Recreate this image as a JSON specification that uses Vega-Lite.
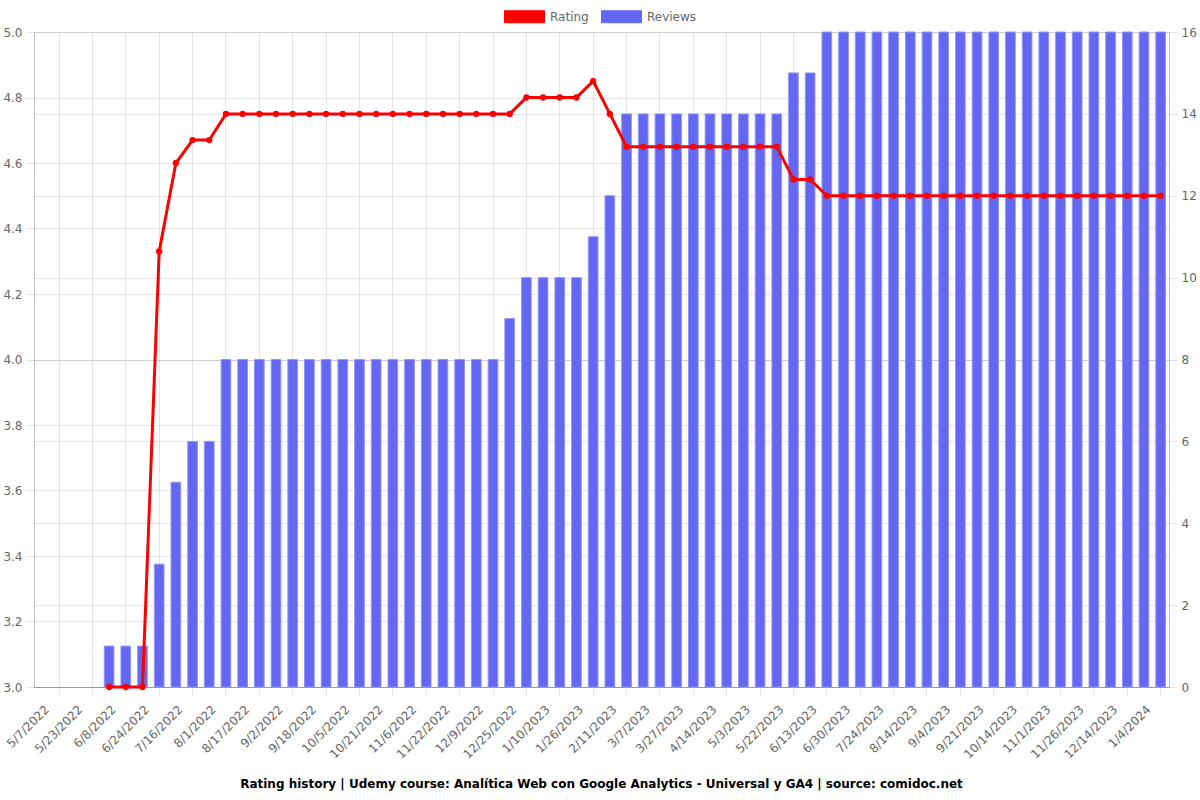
{
  "$schema": "https://vega.github.io/schema/vega-lite/v6.json",
  "width": 1135,
  "height": 655,
  "autosize": "none",
  "padding": {"left": 34, "top": 32, "right": 31, "bottom": 113},
  "background": "white",
  "config": {
    "font": "DejaVu Sans",
    "view": {"stroke": null},
    "axis": {
      "labelFont": "DejaVu Sans",
      "labelFontSize": 12,
      "labelColor": "#666666",
      "gridColor": "#000000",
      "gridOpacity": 0.1,
      "domainColor": "#000000",
      "domainOpacity": 0.25,
      "tickColor": "#000000",
      "tickOpacity": 0.1,
      "tickSize": 8,
      "title": null
    }
  },
  "title": {
    "text": "Rating history | Udemy course: Analítica Web con Google Analytics - Universal y GA4 | source: comidoc.net",
    "orient": "bottom",
    "anchor": "middle",
    "font": "DejaVu Sans",
    "fontSize": 12,
    "fontWeight": "bold",
    "color": "#000000",
    "offset": 19
  },
  "data": {
    "values": [
      {"date": "4/29/2022", "rating": null, "reviews": null},
      {"date": "5/7/2022", "rating": null, "reviews": null},
      {"date": "5/15/2022", "rating": null, "reviews": null},
      {"date": "5/23/2022", "rating": null, "reviews": null},
      {"date": "5/31/2022", "rating": 3.0, "reviews": 1},
      {"date": "6/8/2022", "rating": 3.0, "reviews": 1},
      {"date": "6/16/2022", "rating": 3.0, "reviews": 1},
      {"date": "6/24/2022", "rating": 4.33, "reviews": 3},
      {"date": "7/5/2022", "rating": 4.6, "reviews": 5},
      {"date": "7/16/2022", "rating": 4.67, "reviews": 6},
      {"date": "7/24/2022", "rating": 4.67, "reviews": 6},
      {"date": "8/1/2022", "rating": 4.75, "reviews": 8},
      {"date": "8/9/2022", "rating": 4.75, "reviews": 8},
      {"date": "8/17/2022", "rating": 4.75, "reviews": 8},
      {"date": "8/25/2022", "rating": 4.75, "reviews": 8},
      {"date": "9/2/2022", "rating": 4.75, "reviews": 8},
      {"date": "9/10/2022", "rating": 4.75, "reviews": 8},
      {"date": "9/18/2022", "rating": 4.75, "reviews": 8},
      {"date": "9/26/2022", "rating": 4.75, "reviews": 8},
      {"date": "10/5/2022", "rating": 4.75, "reviews": 8},
      {"date": "10/13/2022", "rating": 4.75, "reviews": 8},
      {"date": "10/21/2022", "rating": 4.75, "reviews": 8},
      {"date": "10/29/2022", "rating": 4.75, "reviews": 8},
      {"date": "11/6/2022", "rating": 4.75, "reviews": 8},
      {"date": "11/14/2022", "rating": 4.75, "reviews": 8},
      {"date": "11/22/2022", "rating": 4.75, "reviews": 8},
      {"date": "11/30/2022", "rating": 4.75, "reviews": 8},
      {"date": "12/9/2022", "rating": 4.75, "reviews": 8},
      {"date": "12/17/2022", "rating": 4.75, "reviews": 9},
      {"date": "12/25/2022", "rating": 4.8, "reviews": 10},
      {"date": "1/2/2023", "rating": 4.8, "reviews": 10},
      {"date": "1/10/2023", "rating": 4.8, "reviews": 10},
      {"date": "1/18/2023", "rating": 4.8, "reviews": 10},
      {"date": "1/26/2023", "rating": 4.85, "reviews": 11},
      {"date": "2/3/2023", "rating": 4.75, "reviews": 12},
      {"date": "2/11/2023", "rating": 4.65, "reviews": 14},
      {"date": "2/23/2023", "rating": 4.65, "reviews": 14},
      {"date": "3/7/2023", "rating": 4.65, "reviews": 14},
      {"date": "3/17/2023", "rating": 4.65, "reviews": 14},
      {"date": "3/27/2023", "rating": 4.65, "reviews": 14},
      {"date": "4/5/2023", "rating": 4.65, "reviews": 14},
      {"date": "4/14/2023", "rating": 4.65, "reviews": 14},
      {"date": "4/23/2023", "rating": 4.65, "reviews": 14},
      {"date": "5/3/2023", "rating": 4.65, "reviews": 14},
      {"date": "5/12/2023", "rating": 4.65, "reviews": 14},
      {"date": "5/22/2023", "rating": 4.55, "reviews": 15},
      {"date": "6/1/2023", "rating": 4.55, "reviews": 15},
      {"date": "6/13/2023", "rating": 4.5, "reviews": 16},
      {"date": "6/21/2023", "rating": 4.5, "reviews": 16},
      {"date": "6/30/2023", "rating": 4.5, "reviews": 16},
      {"date": "7/11/2023", "rating": 4.5, "reviews": 16},
      {"date": "7/24/2023", "rating": 4.5, "reviews": 16},
      {"date": "8/3/2023", "rating": 4.5, "reviews": 16},
      {"date": "8/14/2023", "rating": 4.5, "reviews": 16},
      {"date": "8/24/2023", "rating": 4.5, "reviews": 16},
      {"date": "9/4/2023", "rating": 4.5, "reviews": 16},
      {"date": "9/12/2023", "rating": 4.5, "reviews": 16},
      {"date": "9/21/2023", "rating": 4.5, "reviews": 16},
      {"date": "10/2/2023", "rating": 4.5, "reviews": 16},
      {"date": "10/14/2023", "rating": 4.5, "reviews": 16},
      {"date": "10/23/2023", "rating": 4.5, "reviews": 16},
      {"date": "11/1/2023", "rating": 4.5, "reviews": 16},
      {"date": "11/12/2023", "rating": 4.5, "reviews": 16},
      {"date": "11/26/2023", "rating": 4.5, "reviews": 16},
      {"date": "12/5/2023", "rating": 4.5, "reviews": 16},
      {"date": "12/14/2023", "rating": 4.5, "reviews": 16},
      {"date": "12/24/2023", "rating": 4.5, "reviews": 16},
      {"date": "1/4/2024", "rating": 4.5, "reviews": 16}
    ]
  },
  "encoding": {
    "x": {
      "field": "date",
      "type": "ordinal",
      "sort": null,
      "scale": {
        "type": "band",
        "paddingInner": 0,
        "paddingOuter": 0,
        "domain": ["4/29/2022","5/7/2022","5/15/2022","5/23/2022","5/31/2022","6/8/2022","6/16/2022","6/24/2022","7/5/2022","7/16/2022","7/24/2022","8/1/2022","8/9/2022","8/17/2022","8/25/2022","9/2/2022","9/10/2022","9/18/2022","9/26/2022","10/5/2022","10/13/2022","10/21/2022","10/29/2022","11/6/2022","11/14/2022","11/22/2022","11/30/2022","12/9/2022","12/17/2022","12/25/2022","1/2/2023","1/10/2023","1/18/2023","1/26/2023","2/3/2023","2/11/2023","2/23/2023","3/7/2023","3/17/2023","3/27/2023","4/5/2023","4/14/2023","4/23/2023","5/3/2023","5/12/2023","5/22/2023","6/1/2023","6/13/2023","6/21/2023","6/30/2023","7/11/2023","7/24/2023","8/3/2023","8/14/2023","8/24/2023","9/4/2023","9/12/2023","9/21/2023","10/2/2023","10/14/2023","10/23/2023","11/1/2023","11/12/2023","11/26/2023","12/5/2023","12/14/2023","12/24/2023","1/4/2024"]
      },
      "axis": {
        "values": ["5/7/2022","5/23/2022","6/8/2022","6/24/2022","7/16/2022","8/1/2022","8/17/2022","9/2/2022","9/18/2022","10/5/2022","10/21/2022","11/6/2022","11/22/2022","12/9/2022","12/25/2022","1/10/2023","1/26/2023","2/11/2023","3/7/2023","3/27/2023","4/14/2023","5/3/2023","5/22/2023","6/13/2023","6/30/2023","7/24/2023","8/14/2023","9/4/2023","9/21/2023","10/14/2023","11/1/2023","11/26/2023","12/14/2023","1/4/2024"],
        "grid": true,
        "bandPosition": 0.5,
        "labelAngle": -45,
        "labelAlign": "right",
        "labelBaseline": "middle",
        "labelPadding": 12,
        "labelOffset": -12,
        "labelOverlap": false,
        "zindex": 0
      }
    }
  },
  "layer": [
    {
      "mark": {"type": "bar", "width": {"band": 0.58}, "stroke": "#9395f6", "strokeWidth": 1},
      "encoding": {
        "y": {
          "field": "reviews",
          "type": "quantitative",
          "scale": {"domain": [0, 16], "nice": false},
          "axis": {
            "orient": "right",
            "values": [0, 2, 4, 6, 8, 10, 12, 14, 16],
            "format": "d",
            "labelPadding": 4,
            "grid": true
          }
        },
        "color": {
          "datum": "Reviews",
          "scale": {"domain": ["Rating", "Reviews"], "range": ["#ff0000", "#6467f2"]},
          "legend": {
            "orient": "none",
            "legendX": 470,
            "legendY": -36,
            "direction": "horizontal",
            "title": null,
            "symbolType": "M-1,-0.3H1V0.3H-1Z",
            "symbolSize": 1600,
            "symbolStrokeWidth": 1,
            "labelFont": "DejaVu Sans",
            "labelFontSize": 12,
            "labelColor": "#666666",
            "labelOffset": 5,
            "columnPadding": 10,
            "encode": {
              "symbols": {
                "update": {
                  "fill": {"scale": "color", "field": "value"},
                  "stroke": {"scale": "color", "field": "value"},
                  "fillOpacity": {"value": 1},
                  "strokeOpacity": {"value": 0.6}
                }
              }
            }
          }
        }
      }
    },
    {
      "mark": {"type": "line", "strokeWidth": 3, "point": {"filled": true, "size": 40}},
      "encoding": {
        "y": {
          "field": "rating",
          "type": "quantitative",
          "scale": {"domain": [3, 5], "nice": false, "zero": false},
          "axis": {
            "orient": "left",
            "values": [3, 3.2, 3.4, 3.6, 3.8, 4, 4.2, 4.4, 4.6, 4.8, 5],
            "format": ".1f",
            "labelPadding": 4,
            "grid": true
          }
        },
        "color": {"datum": "Rating"}
      }
    }
  ],
  "resolve": {"scale": {"y": "independent"}, "axis": {"y": "independent"}}
}
